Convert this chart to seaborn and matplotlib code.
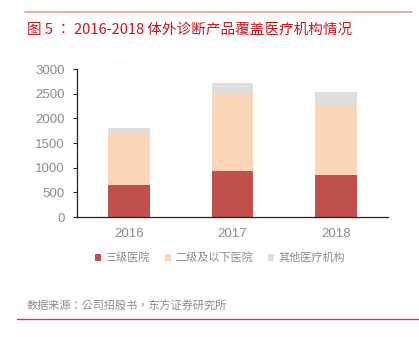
import matplotlib
matplotlib.use("Agg")
import matplotlib.pyplot as plt
from matplotlib.patches import Patch
from matplotlib.lines import Line2D
import seaborn as sns
import pandas as pd

years = ["2016", "2017", "2018"]
tier3 = [650, 935, 860]
tier2_below = [1060, 1590, 1415]
others = [105, 190, 260]
series_names = ["三级医院", "二级及以下医院", "其他医疗机构"]
colors = ["#C0504D", "#FBD5B5", "#DEDEDE"]

sns.set_theme(style="white")
plt.rcParams["font.family"] = ["Noto Sans CJK SC", "DejaVu Sans"]
CJK_CENTERED = ["Noto Sans CJK TC", "DejaVu Sans"]

df = pd.DataFrame({"year": years, "t3": tier3, "t2": tier2_below, "ot": others})
df["c1"] = df["t3"]
df["c2"] = df["t3"] + df["t2"]
df["c3"] = df["c2"] + df["ot"]

fig = plt.figure(figsize=(4.19, 3.37), dpi=100)
ax = fig.add_axes([0.184, 0.356, 0.742, 0.439])

# stacked bars drawn as cumulative layers, tallest first
for col, c in zip(["c3", "c2", "c1"], colors[::-1]):
    sns.barplot(data=df, x="year", y=col, color=c, width=0.4,
                saturation=1, ax=ax, edgecolor="none")

ax.set_xlim(-0.5, 2.5)
ax.set_ylim(0, 3000)
ax.set_yticks(range(0, 3001, 500))
ax.set_xlabel("")
ax.set_ylabel("")
for s in ["top", "right"]:
    ax.spines[s].set_visible(False)
ax.spines["left"].set_color("#222222")
ax.spines["bottom"].set_color("#222222")
ax.spines["left"].set_linewidth(0.9)
ax.spines["bottom"].set_linewidth(0.9)
ax.tick_params(axis="y", which="both", left=True, length=3, width=0.8,
               color="#222222", labelsize=9.5, labelcolor="#8C8C8C", pad=6)
ax.tick_params(axis="x", bottom=False, labelsize=9.5, labelcolor="#8C8C8C", pad=2)
for lab in ax.get_xticklabels() + ax.get_yticklabels():
    lab.set_family(["Liberation Sans", "DejaVu Sans"])

# legend
handles = [Patch(facecolor=c, edgecolor="none") for c in colors]
fig.legend(handles, series_names, loc="center", bbox_to_anchor=(0.525, 0.235),
           ncol=3, frameon=False, fontsize=8, handlelength=0.55, handleheight=0.55,
           handletextpad=0.4, columnspacing=1.3, labelcolor="#8C8C8C")

# title and rules
fig.add_artist(Line2D([25 / 419, 412 / 419], [1 - 11.5 / 337, 1 - 11.5 / 337],
                      color="#E89A9A", lw=1.2))
fig.text(27 / 419, 1 - 30 / 337, "图 5 ： 2016-2018 体外诊断产品覆盖医疗机构情况",
         color="#C8161D", fontsize=10.5, va="center", ha="left", family=CJK_CENTERED)

fig.text(27 / 419, 1 - 306 / 337, "数据来源：公司招股书，东方证券研究所",
         color="#8C8C8C", fontsize=8, va="center", ha="left", family=CJK_CENTERED)
fig.add_artist(Line2D([17 / 419, 1.0], [1 - 319 / 337, 1 - 319 / 337],
                      color="#D04040", lw=1.0))

fig.savefig("out.png", dpi=100)
